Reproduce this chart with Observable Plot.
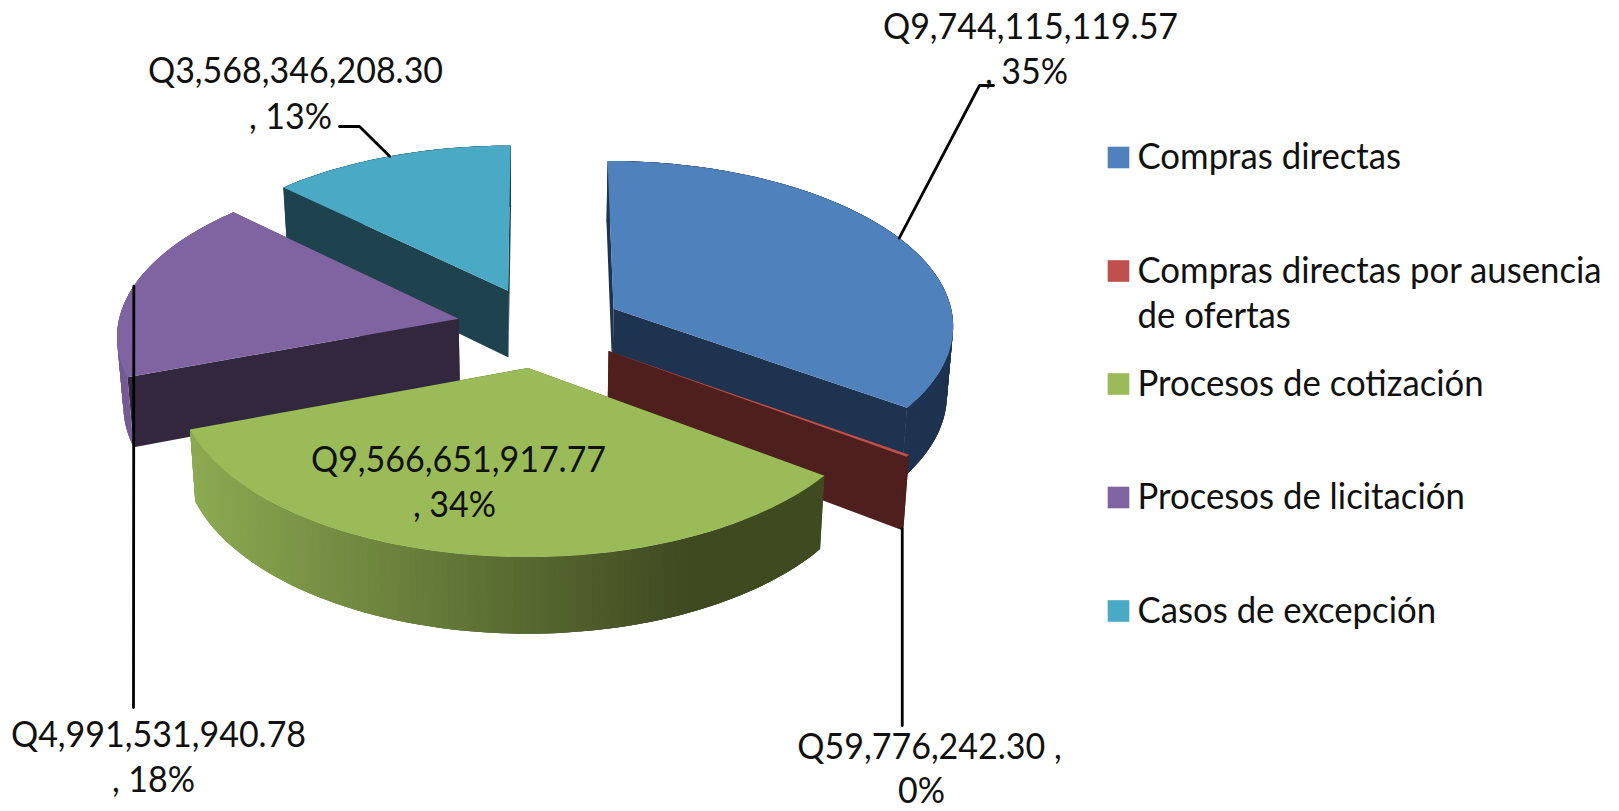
<!DOCTYPE html>
<html lang="es">
<head>
<meta charset="utf-8">
<script src="https://cdn.jsdelivr.net/npm/d3@7"></script>
<script src="https://cdn.jsdelivr.net/npm/@observablehq/plot@0.6"></script>
<style>
html,body{margin:0;padding:0;background:#fff;}
svg{display:block;}
</style>
</head>
<body>
<div id="chart"></div>
<script>
// ---- data ----
const categories = ["Compras directas","Compras directas por ausencia de ofertas","Procesos de cotización","Procesos de licitación","Casos de excepción"];
const values = [9744115119.57, 59776242.30, 9566651917.77, 4991531940.78, 3568346208.30];
const legendLines = [["Compras directas"],["Compras directas por ausencia","de ofertas"],["Procesos de cotización"],["Procesos de licitación"],["Casos de excepción"]];

// ---- colours ----
const topColors  = ["#4f81bd","#c0504d","#9bbb59","#8064a2","#4aa9c5"];
const wallColors = ["#1e334f","#4f1f1e","#3f4a21","#33273f","#1e434f"];

// ---- 3D pie projection ----
const cx = 539.5, cy = 326.6, Rx = 341, Ry = 164.4, persp = 0.09, explode = 0.245, wallH = 68, taper = 0.985;
const project = (X, Z, down) => {
  const s = 1 / (1 + persp * Z);
  return {x: cx + Rx * X * s * (down ? taper : 1), y: cy - Ry * Z * s + (down ? wallH * s : 0)};
};
const total = d3.sum(values);
const slices = [];
let acc = 0;
values.forEach((v, i) => {
  const a0 = acc / total * 2 * Math.PI;
  acc += v;
  const a1 = acc / total * 2 * Math.PI;
  const m = (a0 + a1) / 2;
  slices.push({i, a0, a1, m, ox: explode * Math.sin(m), oz: explode * Math.cos(m)});
});
const pt = (sl, a, r, down) => project(sl.ox + r * Math.sin(a), sl.oz + r * Math.cos(a), down);

const polys = [];
let nextId = 0;
const addPoly = (pts, fill) => { const id = nextId++; pts.forEach(p => polys.push({id, x: p.x, y: p.y, fill})); };
const greenWall = d3.scaleLinear([190, 700], ["#8dab52", "#3f4a21"]).clamp(true);
const arcAngles = (sl) => { const n = Math.max(2, Math.ceil((sl.a1 - sl.a0) / (Math.PI / 180))); return d3.range(n + 1).map(k => sl.a0 + (sl.a1 - sl.a0) * k / n); };

// painter's order: cyan, purple, blue, red, green
[4, 3, 0, 1, 2].forEach(i => {
  const sl = slices[i];
  const wall = wallColors[i];
  [sl.a0, sl.a1].forEach(a => addPoly([pt(sl, a, 0, false), pt(sl, a, 1, false), pt(sl, a, 1, true), pt(sl, a, 0, true)], wall));
  const as = arcAngles(sl);
  // outer wall: overlapping strips, so that no seam shows and the silhouette stays whole
  for (let k = as.length - 2; k >= 0; k--) {
    const to = as[Math.min(k + 3, as.length - 1)];
    const f = pt(sl, as[k], 1, false), g = pt(sl, as[k + 1], 1, false);
    const fill = i === 2 ? greenWall((f.x + g.x) / 2) : i === 3 ? "#755a94" : wall;
    addPoly([f, g, pt(sl, to, 1, false), pt(sl, to, 1, true), pt(sl, as[k + 1], 1, true), pt(sl, as[k], 1, true)], fill);
  }
  addPoly([pt(sl, sl.a0, 0, false), ...as.map(a => pt(sl, a, 1, false))], topColors[i]);
});

// ---- leaders ----
const leaderBends = [[[979,85],[993,85]], null, null, [[133,707]], [[359,126],[339,126]]];
const leaders = [];
slices.forEach((sl, i) => {
  let start = null, rest = [];
  if (i === 1) { start = pt(sl, sl.m, 1, true); rest = [[start.x, 725]]; }
  else if (leaderBends[i]) { start = pt(sl, sl.m, 1, false); rest = leaderBends[i]; }
  if (start) {
    leaders.push({i, x: start.x, y: start.y});
    rest.forEach(r => leaders.push({i, x: r[0], y: r[1]}));
  }
});

// ---- data labels ----
const money = v => "Q" + d3.format(",.2f")(v);
const pct = d3.format(".0%");
const labelAnchors = [[1030,27,1026,72],[929,747,921,791],[458,460,454,505],[158,735,153,780],[295,71,290,117]];
const labelRows = [];
values.forEach((v, i) => {
  const [x1, y1, x2, y2] = labelAnchors[i];
  const first = i === 1 ? money(v) + " ," : money(v);
  const second = i === 1 ? pct(v / total) : ", " + pct(v / total);
  labelRows.push({text: first, x: x1, y: y1}, {text: second, x: x2, y: y2});
});

// ---- legend ----
const legendSwatchX = 1118, legendTextX = 1137, legendRows = [157, 270.5, 383.5, 497, 610.5];
const legendSw = categories.map((c, i) => ({c, x: legendSwatchX, y: legendRows[i], fill: topColors[i]}));
const legendTx = legendLines.flatMap((ls, i) => ls.map((t, k) => ({text: t, x: legendTextX, y: legendRows[i] + k * 45})));

const font = "Lato, Carlito, Calibri, sans-serif";
const chart = Plot.plot({
  width: 1619, height: 811, margin: 0,
  style: {background: "#fff", fontFamily: font},
  x: {domain: [0, 1619], range: [0, 1619], axis: null},
  y: {domain: [0, 811], range: [0, 811], axis: null},
  marks: [
    Plot.line(polys, {x: "x", y: "y", z: "id", fill: {value: "fill", scale: null}, stroke: "none", curve: "linear"}),
    Plot.line(leaders, {x: "x", y: "y", z: "i", stroke: "#000", strokeWidth: 2.8, curve: "linear"}),
    Plot.dot(legendSw, {x: "x", y: "y", symbol: "square", r: 12.2, fill: {value: "fill", scale: null}}),
    Plot.text(legendTx, {x: "x", y: "y", text: "text", textAnchor: "start", fontSize: 36, fill: "#111", className: "lg"}),
    Plot.text(labelRows, {x: "x", y: "y", text: "text", textAnchor: "middle", fontSize: 36, fill: "#111", className: "lb"})
  ]
});
document.getElementById("chart").append(chart);

// Calibri-like condensing of Lato
const squeeze = (sel, f) => chart.querySelectorAll(sel).forEach(t => {
  const w = t.getComputedTextLength();
  if (w > 0) { t.setAttribute("textLength", (w * f).toFixed(1)); t.setAttribute("lengthAdjust", "spacingAndGlyphs"); }
});
squeeze(".lg text", 0.965);
squeeze(".lb text", 0.945);
</script>
</body>
</html>
